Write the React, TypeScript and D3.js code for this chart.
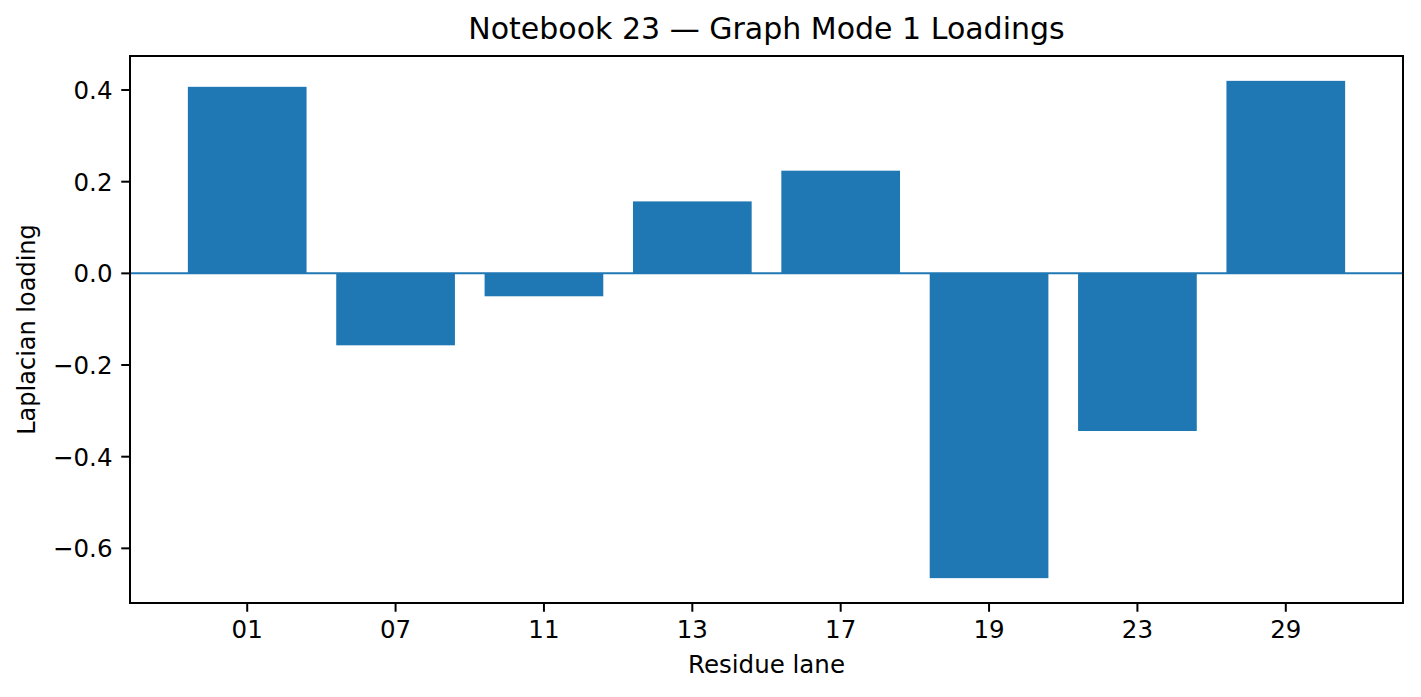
import React from 'react';
import * as d3 from 'd3';

const lanes = ['01', '07', '11', '13', '17', '19', '23', '29'];
const loadings = [0.407, -0.157, -0.05, 0.157, 0.224, -0.665, -0.344, 0.42];
const yTicks = [-0.6, -0.4, -0.2, 0.0, 0.2, 0.4];

const W = 1421;
const H = 697;
const M = { left: 130, right: 18, top: 56, bottom: 94 };
const BLUE = '#1f77b4';
const FONT = 'DejaVu Sans, sans-serif';

export default function App() {
  const iw = W - M.left - M.right;
  const ih = H - M.top - M.bottom;

  const lo = d3.min(loadings)!;
  const hi = d3.max(loadings)!;
  const pad = (hi - lo) * 0.05;
  const y = d3.scaleLinear().domain([lo - pad, hi + pad]).range([ih, 0]);

  // matplotlib-like category axis: bars width 0.8, 5% margins
  const n = lanes.length;
  const xmin = -0.4 - 0.05 * (n - 1 + 0.8);
  const xmax = n - 1 + 0.4 + 0.05 * (n - 1 + 0.8);
  const x = d3.scaleLinear().domain([xmin, xmax]).range([0, iw]);
  const bw = x(0.8) - x(0);

  const fmt = (v: number) => (v < 0 ? '\u2212' : '') + Math.abs(v).toFixed(1);

  return (
    <svg width={W} height={H} style={{ position: 'absolute', left: 0, top: 0, background: '#fff' }} fontFamily={FONT}>
      <text x={M.left + iw / 2} y={39} textAnchor="middle" fontSize={30}>
        Notebook 23 — Graph Mode 1 Loadings
      </text>
      <g transform={`translate(${M.left},${M.top})`}>
        {loadings.map((v, i) => (
          <rect
            key={lanes[i]}
            x={x(i - 0.4)}
            width={bw}
            y={y(Math.max(0, v))}
            height={Math.abs(y(v) - y(0))}
            fill={BLUE}
          />
        ))}
        <line x1={0} x2={iw} y1={y(0)} y2={y(0)} stroke={BLUE} strokeWidth={2} />
        <rect x={0} y={0} width={iw} height={ih} fill="none" stroke="#000" strokeWidth={2} />
        {yTicks.map((t) => (
          <g key={t} transform={`translate(0,${y(t)})`}>
            <line x1={-8.75} x2={0} stroke="#000" strokeWidth={2} />
            <text x={-17.5} dy="0.36em" textAnchor="end" fontSize={24.5}>
              {fmt(t)}
            </text>
          </g>
        ))}
        {lanes.map((l, i) => (
          <g key={l} transform={`translate(${x(i)},${ih})`}>
            <line y1={0} y2={8.75} stroke="#000" strokeWidth={2} />
            <text y={35} textAnchor="middle" fontSize={24.5}>
              {l}
            </text>
          </g>
        ))}
        <text x={iw / 2} y={ih + 70} textAnchor="middle" fontSize={24.5}>
          Residue lane
        </text>
        <text transform={`translate(${-95},${ih / 2}) rotate(-90)`} textAnchor="middle" fontSize={24}>
          Laplacian loading
        </text>
      </g>
    </svg>
  );
}
